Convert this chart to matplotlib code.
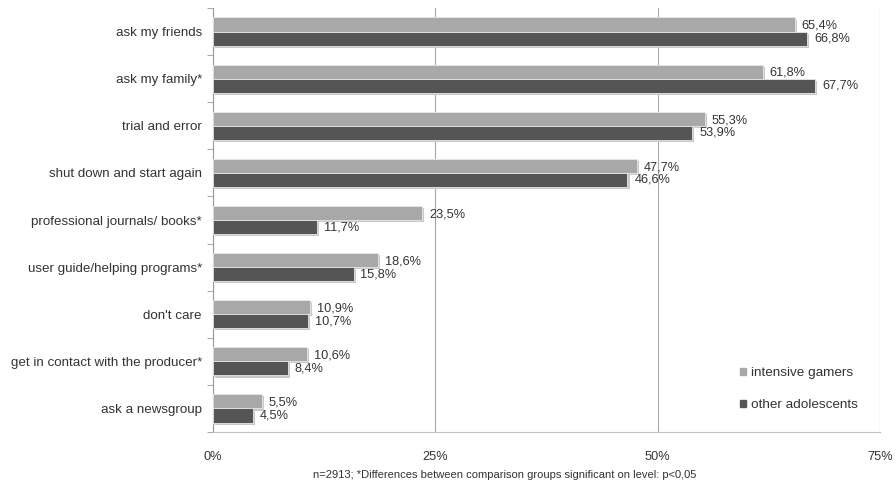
import matplotlib
matplotlib.use("Agg")
import matplotlib.pyplot as plt
import matplotlib.patheffects as pe
import numpy as np

plt.rcParams['font.family'] = ['Liberation Sans', 'DejaVu Sans']

categories = [
    "ask my friends",
    "ask my family*",
    "trial and error",
    "shut down and start again",
    "professional journals/ books*",
    "user guide/helping programs*",
    "don't care",
    "get in contact with the producer*",
    "ask a newsgroup",
]
intensive_gamers = [65.4, 61.8, 55.3, 47.7, 23.5, 18.6, 10.9, 10.6, 5.5]
other_adolescents = [66.8, 67.7, 53.9, 46.6, 11.7, 15.8, 10.7, 8.4, 4.5]
series_names = ["intensive gamers", "other adolescents"]
xticks = [0, 25, 50, 75]
xtick_labels = ["0%", "25%", "50%", "75%"]
footnote = "n=2913; *Differences between comparison groups significant on level: p<0,05"

light = "#a8a8a8"
dark = "#555555"
text_c = "#333333"

fig = plt.figure(figsize=(8.96, 4.88), dpi=100)
ax = fig.add_axes([213/896, 1 - 432/488, (880 - 213)/896, (432 - 8)/488])

n = len(categories)
y = np.arange(n)
h = 0.30
shadow = [pe.SimplePatchShadow(offset=(1.5, -1.5), shadow_rgbFace="#c8c8c8", alpha=1.0), pe.Normal()]

b1 = ax.barh(y - h/2, intensive_gamers, height=h, color=light,
             edgecolor="#e8e8e8", linewidth=0.6, zorder=3)
b2 = ax.barh(y + h/2, other_adolescents, height=h, color=dark,
             edgecolor="#e8e8e8", linewidth=0.6, zorder=3)
for bars in (b1, b2):
    for p in bars:
        p.set_path_effects(shadow)

def fmt(v):
    return f"{v:.1f}".replace(".", ",") + "%"

for yi, v in zip(y - h/2, intensive_gamers):
    ax.annotate(fmt(v), (v, yi), xytext=(5, -1), textcoords="offset points",
                va="center", ha="left", fontsize=9.2, color=text_c)
for yi, v in zip(y + h/2, other_adolescents):
    ax.annotate(fmt(v), (v, yi), xytext=(5, 0), textcoords="offset points",
                va="center", ha="left", fontsize=9.2, color=text_c)

ax.set_xlim(0, 75)
ax.set_ylim(n - 0.5, -0.5)
ax.set_xticks(xticks)
ax.set_xticklabels(xtick_labels, fontsize=9.2, color=text_c)
ax.tick_params(axis="x", length=0, pad=14)
ax.set_yticks(y)
ax.set_yticklabels(categories, fontsize=9.6, color=text_c)
ax.tick_params(axis="y", length=0, pad=8)
# small separator ticks between the category groups
ax.set_yticks(np.arange(-0.5, n + 0.5, 1), minor=True)
ax.tick_params(axis="y", which="minor", length=4, color="#999999", direction="out")

ax.grid(axis="x", color="#a8a8a8", linewidth=0.8, zorder=0)
for s in ("top", "right"):
    ax.spines[s].set_visible(False)
ax.spines["left"].set_color("#999999")
ax.spines["bottom"].set_color("#c0c0c0")

handles = [plt.Rectangle((0, 0), 1, 1, color=light), plt.Rectangle((0, 0), 1, 1, color=dark)]
leg = ax.legend(handles, series_names, loc="lower right", bbox_to_anchor=(0.985, 0.02),
                frameon=False, fontsize=9.7, handlelength=0.5, handleheight=0.5,
                handletextpad=0.35, labelspacing=1.5, labelcolor=text_c)

fig.text(505/896, 1 - 475/488, footnote, ha="center", va="center", fontsize=8.0, color=text_c)

fig.savefig("out.png", dpi=100)
